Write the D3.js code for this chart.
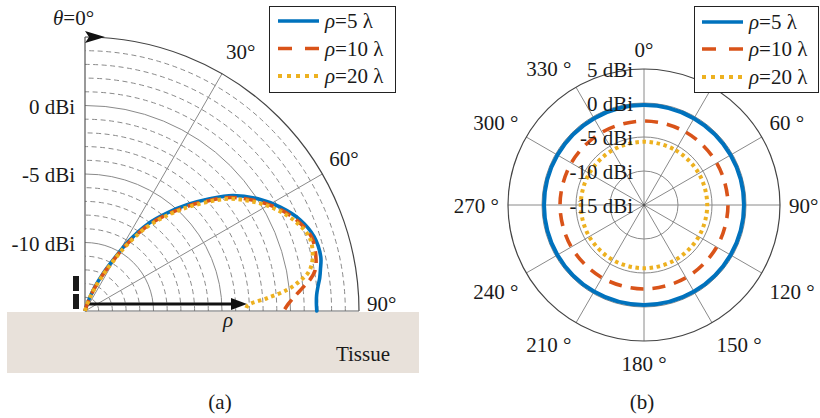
<!DOCTYPE html>
<html><head><meta charset="utf-8">
<script src="https://cdn.jsdelivr.net/npm/d3@7"></script>
<style>
body{margin:0;background:#fff}
svg{display:block}
</style>
</head><body>
<svg id="c" width="820" height="418" font-family="'Liberation Serif', 'Times New Roman', Times, 'DejaVu Serif', serif" font-size="21"></svg>
<script>
// ---------- data ----------
// panel (a): elevation cut, theta (deg from normal) vs gain (dBi)
const thetaA = [0, 10, 18, 22, 26, 29, 32, 36, 40, 44, 48, 52, 57, 62, 67, 72, 77, 80, 82, 84, 86, 88, 90];
const gainA5  = [-15, -15, -14.3, -13.2, -11.9, -10.7, -9.0, -7.1, -5.65, -4.2, -2.75, -1.3, 0.05, 1.15, 2.05, 2.58, 2.66, 2.45, 2.3, 2.1, 1.95, 1.9, 1.92];
const gainA10 = [-15, -15, -14.4, -13.4, -12.1, -10.9, -9.3, -7.4, -5.9, -4.45, -3.0, -1.55, -0.2, 0.95, 1.85, 2.4, 2.3, 2.05, 1.6, 0.95, 0.35, -0.15, -0.5];
const gainA20 = [-15, -15, -14.5, -13.5, -12.25, -11.05, -9.45, -7.55, -6.05, -4.6, -3.15, -1.7, -0.35, 0.8, 1.7, 2.25, 2.05, 1.6, 0.85, -0.15, -1.7, -3.1, -3.3];
// panel (b): azimuth cut
const phiB = [0, 30, 60, 90, 120, 150, 180, 210, 240, 270, 300, 330];
const gainB5  = [-0.3, -0.3, -0.3, -0.3, -0.3, -0.3, -0.3, -0.3, -0.3, -0.3, -0.3, -0.3];
const gainB10 = [-2.65, -2.65, -2.65, -2.65, -2.65, -2.65, -2.65, -2.65, -2.65, -2.65, -2.65, -2.65];
const gainB20 = [-5.7, -5.7, -5.7, -5.7, -5.7, -5.7, -5.7, -5.7, -5.7, -5.7, -5.7, -5.7];
// axes / ticks
const rDomain = [-15, 5];
const rTicksA = [-10, -5, 0];
const rTickLabelsA = ["-10 dBi", "-5 dBi", "0 dBi"];
const rTicksB = [-15, -10, -5, 0, 5];
const rTickLabelsB = ["-15 dBi", "-10 dBi", "-5 dBi", "0 dBi", "5 dBi"];
const angTicksA = [30, 60, 90];
const angLabelsA = ["30°", "60°", "90°"];
const spokesB = [0, 30, 60, 90, 120, 150, 180, 210, 240, 270, 300, 330];
// the 30° label of panel (b) lies under the legend and is not visible
const angTicksB = [0, 60, 90, 120, 150, 180, 210, 240, 270, 300, 330];
const angLabelsB = ["0°", "60 °", "90°", "120 °", "150 °", "180 °", "210 °", "240 °", "270 °", "300 °", "330 °"];
const seriesNames = ["5", "10", "20"];

// ---------- styles ----------
const FONT = "'Liberation Serif', 'Times New Roman', Times, 'DejaVu Serif', serif";
const colors = ["#0072BD", "#D95319", "#EDB120"];
const dashCurveA = [null, "12,7", "3.5,3.5"];
const dashCurveB = [null, "13,9", "3.5,3.6"];
const dashLegend = [null, "14,13", "4,5"];
const widths = [3.6, 3.6, 4];

const svg = d3.select("#c");
const rad = d => d * Math.PI / 180;
function txt(sel) {
  return sel.append("text").attr("font-family", FONT).attr("font-size", 21).attr("fill", "#1a1a1a");
}

// ---------- tissue ----------
svg.append("rect").attr("x", 7).attr("y", 312).attr("width", 412).attr("height", 61).attr("fill", "#e8e1da");

// ---------- panel (a) ----------
const cxA = 85, cyA = 311, RA = 274;
const rA = d3.scaleLinear().domain(rDomain).range([0, RA]).clamp(true);
const gA = svg.append("g").attr("transform", `translate(${cxA},${cyA})`);

function quarterArc(r) {
  const p = d3.path();
  p.moveTo(r, 0);
  p.arc(0, 0, r, 0, -Math.PI / 2, true);
  return p.toString();
}
// minor dashed rings every 1 dB
const minorA = d3.range(rDomain[0] + 1, rDomain[1]).filter(v => !rTicksA.includes(v));
gA.selectAll("path.minor").data(minorA).join("path")
  .attr("d", v => quarterArc(rA(v))).attr("fill", "none")
  .attr("stroke", "#8a8a8a").attr("stroke-width", 1).attr("stroke-dasharray", "5,3.5");
gA.selectAll("path.major").data(rTicksA).join("path")
  .attr("d", v => quarterArc(rA(v))).attr("fill", "none")
  .attr("stroke", "#8a8a8a").attr("stroke-width", 1);
// spokes
gA.selectAll("line.sp").data([30, 60]).join("line")
  .attr("x1", 0).attr("y1", 0)
  .attr("x2", a => RA * Math.sin(rad(a))).attr("y2", a => -RA * Math.cos(rad(a)))
  .attr("stroke", "#8a8a8a").attr("stroke-width", 1);
// outer arc + axes
gA.append("path").attr("d", quarterArc(RA)).attr("fill", "none").attr("stroke", "#444").attr("stroke-width", 1.2);
gA.append("line").attr("x1", 0).attr("y1", 0).attr("x2", 0).attr("y2", -RA).attr("stroke", "#555").attr("stroke-width", 1.2);
gA.append("line").attr("x1", 0).attr("y1", 0).attr("x2", RA).attr("y2", 0).attr("stroke", "#666").attr("stroke-width", 1.2);

// radial tick labels
rTicksA.forEach((v, i) => {
  txt(gA).attr("x", -10).attr("y", -rA(v) + 8).attr("text-anchor", "end").text(rTickLabelsA[i]);
});
// angle labels
angTicksA.forEach((a, i) => {
  const c = Math.cos(rad(a));
  txt(gA).attr("x", 282 * Math.sin(rad(a))).attr("y", -282 * c - 9 * c)
    .attr("text-anchor", "start").text(angLabelsA[i]);
});

// top arrow (theta = 0)
gA.append("path").attr("d", `M0,${-RA - 6} L20,${-RA} L0,${-RA + 6} L4,${-RA} Z`).attr("fill", "#111");
// theta label
const tl = txt(svg).attr("x", 53).attr("y", 25);
tl.append("tspan").attr("font-style", "italic").text("θ");
tl.append("tspan").text("=0°");

// horizontal rho arrow
gA.append("line").attr("x1", 2).attr("y1", -7).attr("x2", 148).attr("y2", -7).attr("stroke", "#111").attr("stroke-width", 3);
gA.append("path").attr("d", "M146,-13 L162,-7 L146,-1 Z").attr("fill", "#111");
txt(svg).attr("x", 228).attr("y", 327).attr("text-anchor", "middle").attr("font-style", "italic").text("ρ");

// dipole bars
svg.append("rect").attr("x", 73).attr("y", 276).attr("width", 6).attr("height", 15).attr("fill", "#1a1a1a");
svg.append("rect").attr("x", 73).attr("y", 294).attr("width", 6).attr("height", 15).attr("fill", "#1a1a1a");

// curves (a)
const lineA = d3.lineRadial().angle(d => rad(d[0])).radius(d => rA(d[1])).curve(d3.curveCatmullRom);
[gainA5, gainA10, gainA20].forEach((g, i) => {
  gA.append("path").datum(thetaA.map((t, k) => [t, g[k]]))
    .attr("d", lineA).attr("fill", "none")
    .attr("stroke", colors[i]).attr("stroke-width", widths[i])
    .attr("stroke-dasharray", dashCurveA[i])
    .attr("stroke-linecap", i === 0 ? "round" : "butt");
});

txt(svg).attr("x", 390).attr("y", 361).attr("text-anchor", "end").text("Tissue");
txt(svg).attr("x", 220).attr("y", 409).attr("text-anchor", "middle").text("(a)");

// ---------- panel (b) ----------
const cxB = 644, cyB = 205, RB = 136;
const rB = d3.scaleLinear().domain(rDomain).range([0, RB]).clamp(true);
const gB = svg.append("g").attr("transform", `translate(${cxB},${cyB})`);
gB.selectAll("circle.ring").data(rTicksB.slice(1, -1)).join("circle")
  .attr("r", v => rB(v)).attr("fill", "none").attr("stroke", "#8a8a8a").attr("stroke-width", 1);
gB.selectAll("line.sp").data(spokesB).join("line")
  .attr("x1", 0).attr("y1", 0)
  .attr("x2", a => RB * Math.sin(rad(a))).attr("y2", a => -RB * Math.cos(rad(a)))
  .attr("stroke", "#8a8a8a").attr("stroke-width", 1);
gB.append("circle").attr("r", RB).attr("fill", "none").attr("stroke", "#444").attr("stroke-width", 1.2);
gB.append("circle").attr("r", 1.5).attr("fill", "#555");

angTicksB.forEach((a, i) => {
  const c = Math.cos(rad(a)), s = Math.sin(rad(a)), y = -145 * c;
  txt(gB).attr("x", 145 * s)
    .attr("y", c > 0.05 ? y - 3 : (c < -0.05 ? y + 21 : y + 8))
    .attr("text-anchor", s > 0.05 ? "start" : (s < -0.05 ? "end" : "middle"))
    .text(angLabelsB[i]);
});

const lineB = d3.lineRadial().angle(d => rad(d[0])).radius(d => rB(d[1])).curve(d3.curveCardinalClosed);
[gainB5, gainB10, gainB20].forEach((g, i) => {
  gB.append("path").datum(phiB.map((t, k) => [t, g[k]]))
    .attr("d", lineB).attr("fill", "none")
    .attr("stroke", colors[i]).attr("stroke-width", i === 0 ? 4 : widths[i])
    .attr("stroke-dasharray", dashCurveB[i]);
});
rTicksB.forEach((v, i) => {
  txt(gB).attr("x", -11).attr("y", -rB(v) + 8).attr("text-anchor", "end").text(rTickLabelsB[i]);
});

txt(svg).attr("x", 642).attr("y", 409).attr("text-anchor", "middle").text("(b)");

// ---------- legends ----------
function legend(x0, y0, w, h, lx1, lx2, tx, rows) {
  const g = svg.append("g");
  g.append("rect").attr("x", x0).attr("y", y0).attr("width", w).attr("height", h)
    .attr("fill", "#fff").attr("stroke", "#222").attr("stroke-width", 1);
  seriesNames.forEach((n, i) => {
    g.append("line").attr("x1", lx1).attr("x2", lx2).attr("y1", rows[i]).attr("y2", rows[i])
      .attr("stroke", colors[i]).attr("stroke-width", i === 2 ? 4 : 3.5)
      .attr("stroke-dasharray", dashLegend[i]);
    const t = txt(g).attr("x", tx).attr("y", rows[i] + 7);
    t.append("tspan").attr("font-style", "italic").text("ρ");
    t.append("tspan").text("=" + n + " λ");
  });
}
legend(269.5, 6.5, 126, 86, 278, 319, 325, [21, 48.5, 76]);
legend(694.5, 6.5, 124, 86, 702, 743, 749, [22, 49, 77]);
</script>
</body></html>
